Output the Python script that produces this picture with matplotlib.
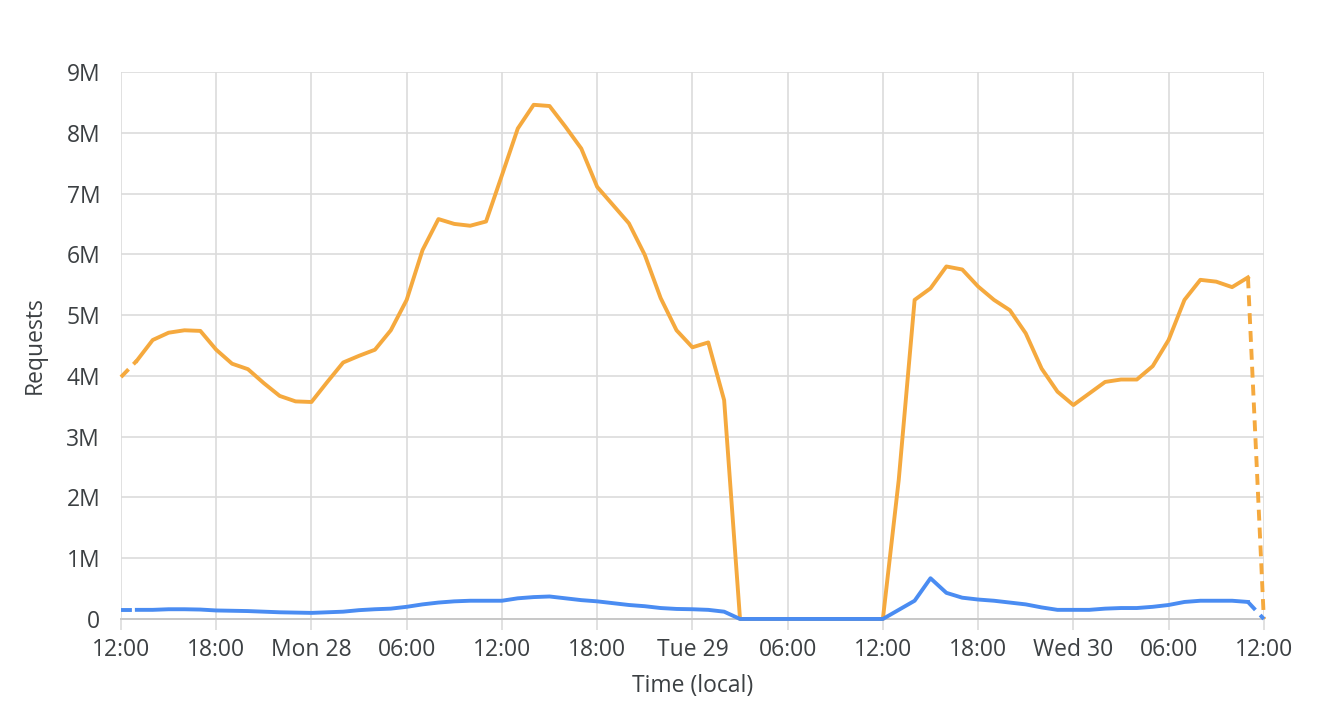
import matplotlib.pyplot as plt
import numpy as np

# hourly samples, Sun 27 12:00 -> Wed 30 12:00 (local)
hours = np.arange(73)

orange = [3.98, 4.25, 4.59, 4.71, 4.75, 4.74, 4.43, 4.20, 4.11, 3.88,
          3.67, 3.58, 3.57, 3.90, 4.22, 4.33, 4.43, 4.75, 5.25, 6.07,
          6.58, 6.50, 6.47, 6.54, 7.30, 8.07, 8.46, 8.44, 8.10, 7.74,
          7.11, 6.81, 6.51, 5.99, 5.28, 4.75, 4.47, 4.55, 3.60, 0.0,
          0.0, 0.0, 0.0, 0.0, 0.0, 0.0, 0.0, 0.0, 0.0, 2.29,
          5.25, 5.44, 5.80, 5.75, 5.47, 5.25, 5.08, 4.70, 4.12, 3.74,
          3.52, 3.71, 3.90, 3.94, 3.94, 4.16, 4.59, 5.25, 5.58, 5.55,
          5.46, 5.62, 0.0]

blue = [0.15, 0.15, 0.15, 0.16, 0.16, 0.155, 0.14, 0.135, 0.13, 0.12,
        0.11, 0.105, 0.10, 0.11, 0.12, 0.145, 0.16, 0.17, 0.20, 0.24,
        0.27, 0.29, 0.30, 0.30, 0.30, 0.34, 0.36, 0.37, 0.34, 0.31,
        0.29, 0.26, 0.23, 0.21, 0.18, 0.165, 0.16, 0.15, 0.12, 0.0,
        0.0, 0.0, 0.0, 0.0, 0.0, 0.0, 0.0, 0.0, 0.0, 0.15,
        0.30, 0.67, 0.43, 0.35, 0.32, 0.30, 0.27, 0.24, 0.19, 0.15,
        0.15, 0.15, 0.17, 0.18, 0.18, 0.20, 0.23, 0.28, 0.30, 0.30,
        0.30, 0.28, 0.0]

xtick_labels = ["12:00", "18:00", "Mon 28", "06:00", "12:00", "18:00", "Tue 29",
                "06:00", "12:00", "18:00", "Wed 30", "06:00", "12:00"]
ytick_labels = ["0", "1M", "2M", "3M", "4M", "5M", "6M", "7M", "8M", "9M"]

ORANGE = "#f5a93e"
BLUE = "#4a8cf2"
TXT = "#3c4043"
FS = 16.5

plt.rcParams['font.family'] = ['Open Sans', 'DejaVu Sans']

fig = plt.figure(figsize=(13.22, 7.22), dpi=100)
ax = fig.add_axes([0.0915, 0.1427, 0.8645, 0.7576])

orange = np.array(orange) * 1e6
blue = np.array(blue) * 1e6

for y, c in [(orange, ORANGE), (blue, BLUE)]:
    # first and last intervals are partial -> dashed
    ax.plot(hours[:2], y[:2], color=c, lw=2.8, ls=(0, (2.8, 1.8)), clip_on=False, zorder=3)
    ax.plot(hours[1:-1], y[1:-1], color=c, lw=2.8, clip_on=False, zorder=3)
    ax.plot(hours[-2:], y[-2:], color=c, lw=2.8, ls=(0, (2.8, 1.8)), clip_on=False, zorder=3)

ax.set_xlim(0, 72)
ax.set_ylim(0, 9e6)
ax.set_xticks(np.arange(0, 73, 6))
ax.set_xticklabels(xtick_labels)
ax.set_yticks(np.arange(0, 10) * 1e6)
ax.set_yticklabels(ytick_labels)

ax.grid(True, color="#dcdcdc", lw=1.2)
ax.set_axisbelow(True)
for s in ['top', 'right', 'left']:
    ax.spines[s].set_visible(False)
ax.spines['bottom'].set_color('#c8c8c8')
ax.spines['bottom'].set_linewidth(1.4)
ax.tick_params(axis='x', length=8, color='#dcdcdc', width=1.2, labelsize=FS, labelcolor=TXT, pad=6)
ax.tick_params(axis='y', length=0, labelsize=FS, labelcolor=TXT, pad=15)

ax.set_xlabel("Time (local)", fontsize=FS, color=TXT, labelpad=8)
ax.set_ylabel("Requests", fontsize=FS, color=TXT, labelpad=14)

plt.savefig('out.png', dpi=100)
